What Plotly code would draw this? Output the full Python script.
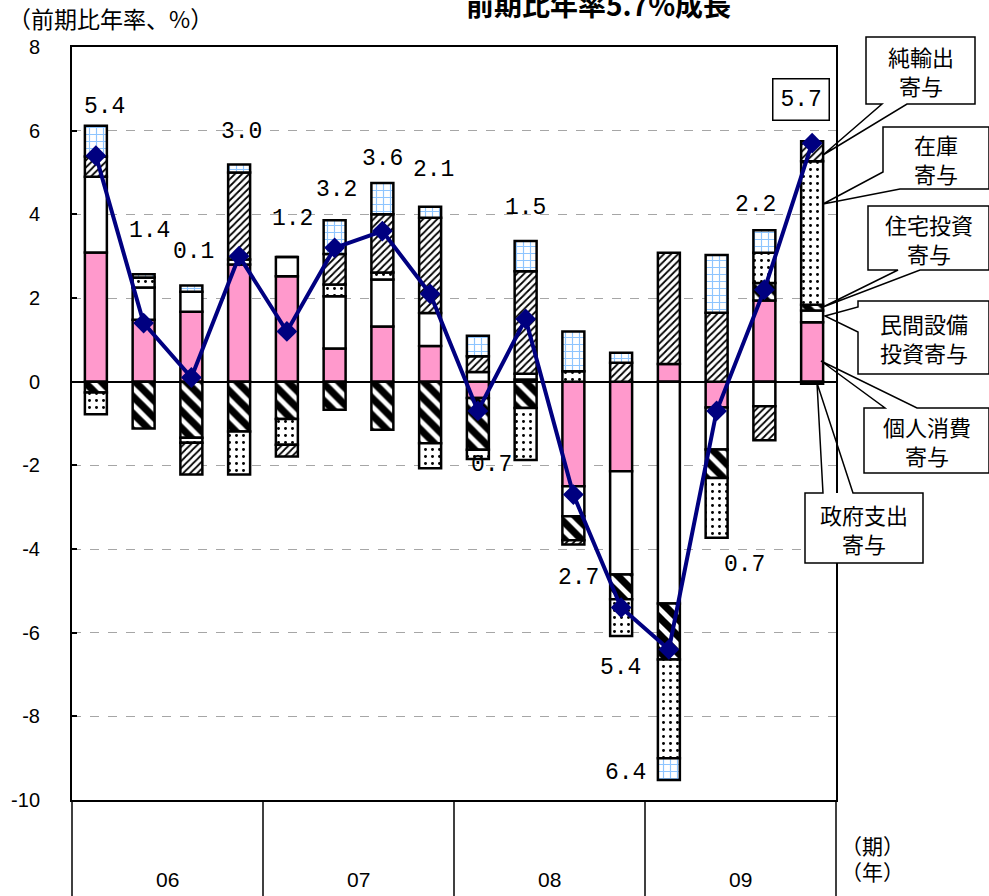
import plotly.graph_objects as go

# Quarterly real GDP growth (annualised, q/q) and contributions by component
quarters = ["06Q1", "06Q2", "06Q3", "06Q4", "07Q1", "07Q2", "07Q3", "07Q4",
            "08Q1", "08Q2", "08Q3", "08Q4", "09Q1", "09Q2", "09Q3", "09Q4"]
years = ["06", "07", "08", "09"]
gdp_growth = [5.4, 1.4, 0.1, 3.0, 1.2, 3.2, 3.6, 2.1,
              -0.7, 1.5, -2.7, -5.4, -6.4, -0.7, 2.2, 5.7]
consumption = [3.09, 1.48, 1.67, 2.80, 2.52, 0.79, 1.32, 0.85,
               -0.39, 0.05, -2.50, -2.14, 0.42, -0.62, 1.94, 1.42]
nonres_invest = [1.81, 0.77, 0.48, 0.12, 0.46, 1.25, 1.12, 0.79,
                 0.23, 0.14, -0.72, -2.47, -5.30, -1.00, -0.59, 0.28]
residential = [-0.26, -1.12, -1.34, -1.19, -0.89, -0.67, -1.15, -1.47,
               -1.24, -0.63, -0.57, -0.59, -1.34, -0.68, 0.42, 0.14]
inventories = [-0.52, 0.24, -0.12, -1.03, -0.62, 0.28, 0.17, -0.60,
               -0.22, -1.24, 0.25, -0.88, -2.36, -1.43, 0.72, 3.43]
net_exports = [0.48, 0.00, -0.76, 2.08, -0.28, 0.73, 1.39, 2.28,
               0.38, 2.45, -0.10, 0.45, 2.66, 1.65, -0.81, 0.48]
government = [0.74, 0.08, 0.15, 0.19, 0.00, 0.81, 0.75, 0.26,
              0.49, 0.72, 0.95, 0.24, -0.52, 1.38, 0.54, -0.05]
tick_values = [8, 6, 4, 2, 0, -2, -4, -6, -8, -10]
tick_labels = ["8", "6", "4", "2", "0", "-2", "-4", "-6", "-8", "-10"]

# pixel offsets of the growth labels relative to their line point
label_shift = [(9, 49), (6, 92), (2, 125), (2, 124), (6, 112), (2, 58), (0, 72), (3, 124),
               (14, -54), (0, 111), (5, -83), (-1, -60), (-43, -124), (28, -154), (-9, 85), (-11, 44)]

W, H = 989, 896
ML, MR, MT, MB = 72, 153, 47, 96
PW, PH = W - ML - MR, H - MT - MB


def px(x):
    return (x - ML) / PW


def py(y):
    return (H - MB - y) / PH


JP = "Noto Sans CJK JP"
SANS = "Liberation Sans"

fig = go.Figure()

line_style = dict(color="black", width=2.5)
components = [
    ("個人消費", consumption, dict(color="#FF99CC", line=line_style)),
    ("民間設備投資", nonres_invest, dict(color="white", line=line_style)),
    ("住宅投資", residential, dict(color="white", line=line_style,
                               pattern=dict(shape="\\", fgcolor="#000000", fgopacity=1,
                                            bgcolor="white", size=12, solidity=0.6))),
    ("在庫", inventories, dict(color="white", line=line_style,
                             pattern=dict(shape=".", fgcolor="#000000", fgopacity=1,
                                          bgcolor="white", size=7, solidity=0.14))),
    ("純輸出", net_exports, dict(color="white", line=line_style,
                              pattern=dict(shape="/", fgcolor="#000000", fgopacity=1,
                                           bgcolor="white", size=5, solidity=0.35))),
    ("政府支出", government, dict(color="white", line=line_style,
                               pattern=dict(shape="+", fgcolor="#8EC5FF", fgopacity=1,
                                            bgcolor="white", size=7, solidity=0.3))),
]
for name, vals, marker in components:
    fig.add_trace(go.Bar(x=quarters, y=vals, name=name, marker=marker, width=0.46,
                         showlegend=False))

fig.add_trace(go.Scatter(x=quarters, y=gdp_growth, mode="lines+markers",
                         line=dict(color="#000080", width=4),
                         marker=dict(symbol="diamond", size=16, color="#000080"),
                         showlegend=False))


def note(x, y, text, font, **kw):
    d = dict(x=x, y=y, xref="paper", yref="paper", text=text, showarrow=False,
             xanchor="center", yanchor="middle", font=font)
    d.update(kw)
    return d


annotations = []
for i, (q, v) in enumerate(zip(quarters, gdp_growth)):
    dx, dy = label_shift[i]
    boxed = i == len(quarters) - 1
    annotations.append(dict(
        x=q, y=v, xref="x", yref="y", text=f"{abs(v):.1f}", showarrow=False,
        xanchor="center", yanchor="middle",
        xshift=dx, yshift=dy, font=dict(family="Liberation Mono", size=23, color="black"),
        bgcolor="white" if boxed else None,
        bordercolor="black" if boxed else None,
        borderwidth=1.5 if boxed else 0, borderpad=7 if boxed else 1))

# headings
annotations.append(note(px(598), py(4), "<b>前期比年率5.7%成長</b>",
                        dict(family=JP, size=28, color="black")))
annotations.append(note(px(6), py(18), "（前期比年率、%）",
                        dict(family=JP, size=23, color="black"), xanchor="left"))

# year row under the plot
for k, yr in enumerate(years):
    annotations.append(note((k + 0.5) / 4, py(880), yr, dict(family=SANS, size=21, color="black")))
annotations.append(note(px(872), py(845), "（期）", dict(family=JP, size=21, color="black")))
annotations.append(note(px(872), py(871), "（年）", dict(family=JP, size=21, color="black")))

shapes = []
for k in range(5):
    shapes.append(dict(type="line", xref="paper", yref="paper", x0=k / 4, x1=k / 4,
                       y0=0, y1=py(H + 2), line=dict(color="black", width=1.5)))

# callout boxes: (text, box, wedge base points, tip, edge carrying the wedge)
callouts = [
    ("純輸出<br>寄与", (866, 37, 975, 104), [(907, 104), (882, 104)], (823, 155), "bottom"),
    ("在庫<br>寄与", (883, 127, 989, 189), [(883, 172), (900, 189)], (823, 204), "left"),
    ("住宅投資<br>寄与", (868, 206, 989, 270), [(920, 270), (898, 270)], (823, 307), "bottom"),
    ("民間設備<br>投資寄与", (858, 301, 989, 374), [(858, 307), (858, 332)], (825, 316), "left"),
    ("個人消費<br>寄与", (864, 408, 989, 473), [(885, 408), (917, 408)], (821, 361), "top"),
    ("政府支出<br>寄与", (805, 493, 923, 563), [(823, 493), (853, 493)], (817, 383), "top"),
]


def pt(x, y):
    return f"{px(x):.5f},{py(y):.5f}"


for text, (x0, y0, x1, y1), base, tip, side in callouts:
    shapes.append(dict(type="rect", xref="paper", yref="paper", layer="above",
                       x0=px(x0), x1=px(x1), y0=py(y1), y1=py(y0),
                       fillcolor="white", line=dict(width=0)))
    (b1x, b1y), (b2x, b2y) = base
    if side == "bottom":
        path = (f"M{pt(x0, y0)} L{pt(x1, y0)} L{pt(x1, y1)} L{pt(b1x, b1y)} "
                f"L{pt(*tip)} L{pt(b2x, b2y)} L{pt(x0, y1)} Z")
    elif side == "top":
        path = (f"M{pt(x0, y0)} L{pt(b1x, b1y)} L{pt(*tip)} L{pt(b2x, b2y)} "
                f"L{pt(x1, y0)} L{pt(x1, y1)} L{pt(x0, y1)} Z")
    else:  # left edge (may turn onto the bottom edge)
        path = f"M{pt(x0, y0)} L{pt(x1, y0)} L{pt(x1, y1)} "
        if b2y == y1 and b2x > x0:
            path += f"L{pt(b2x, b2y)} L{pt(*tip)} L{pt(b1x, b1y)} L{pt(x0, y0)} Z"
        else:
            path += f"L{pt(x0, y1)} L{pt(b2x, b2y)} L{pt(*tip)} L{pt(b1x, b1y)} Z"
    shapes.append(dict(type="path", xref="paper", yref="paper", layer="above", path=path,
                       line=dict(color="black", width=1.5)))
    annotations.append(note(px((x0 + x1) / 2), py((y0 + y1) / 2), text,
                            dict(family=JP, size=22, color="black")))

fig.update_layout(
    width=W, height=H, margin=dict(l=ML, r=MR, t=MT, b=MB),
    paper_bgcolor="white", plot_bgcolor="white",
    barmode="relative", bargap=0.5,
    annotations=annotations, shapes=shapes,
    xaxis=dict(range=[-0.5, 15.5], showticklabels=False, ticks="", showgrid=False,
               showline=True, linecolor="black", linewidth=2, mirror=True),
    yaxis=dict(range=[-10, 8], tickvals=tick_values, ticktext=tick_labels,
               showgrid=True, gridcolor="#A6A6A6", griddash="dash", gridwidth=1,
               zeroline=True, zerolinecolor="black", zerolinewidth=2,
               showline=True, linecolor="black", linewidth=2, mirror=True,
               ticks="inside", ticklen=5, tickcolor="black", tickwidth=1.5,
               ticklabelstandoff=26,
               tickfont=dict(family=SANS, size=20, color="black")),
)

fig.write_html("out.html")
